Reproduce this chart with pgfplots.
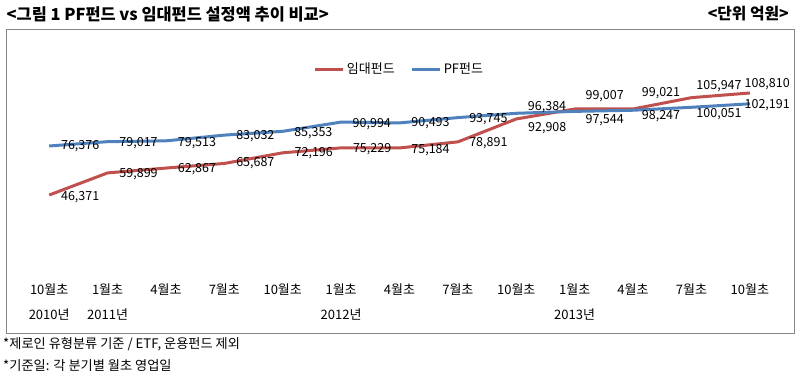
\documentclass[border=0pt]{standalone}
\usepackage{fontspec}
\setmainfont{Noto Sans CJK KR}
\usepackage{pgfplots}
\usepackage{pgfplotstable}
\pgfplotsset{compat=1.18}
\definecolor{rd}{RGB}{192,80,77}
\definecolor{bl}{RGB}{79,129,189}
\definecolor{bx}{RGB}{134,134,134}

% x = quarter index, y = value (100 million won), dx/dy = label offset (pt)
\pgfplotstableread{
x y dx dy
0 46371 31 -1.7
1 59899 31 -1.1
2 62867 31 -1.3
3 65687 31 0
4 72196 31 -0.5
5 75229 31 -1.5
6 75184 31 -2
7 78891 30.5 -0.8
8 92908 31 -9.3
9 99007 30 13.3
10 99021 28 15.7
11 105947 27.6 12
12 108810 17.4 9
}\redtab

\pgfplotstableread{
x y dx dy
0 76376 31 -0.6
1 79017 31 -1
2 79513 31 -1.9
3 83032 31 -0.9
4 85353 30.6 -1.4
5 90994 30.7 -1.9
6 90493 31 -0.4
7 93745 30.5 -1.4
8 96384 30.8 6.6
9 97544 30 -8.6
10 98247 28 -5.5
11 100051 27.6 -6.7
12 102191 17.4 -1.2
}\bluetab

\begin{document}
\begin{tikzpicture}[x=1pt,y=1pt]
\useasboundingbox (0,0) rectangle (807,376);
\draw[bx, line width=1.2pt] (6.7,346.7) rectangle (794.3,42.7);
\node[anchor=west, inner sep=0pt, font=\fontsize{16.4}{19}\selectfont\bfseries] at (6.5,362) {<그림 1 PF펀드 vs 임대펀드 설정액 추이 비교>};
\node[anchor=east, inner sep=0pt, font=\fontsize{15.8}{19}\selectfont\bfseries] at (789,362) {<단위 억원>};
\node[anchor=west, inner sep=0pt, font=\fontsize{13.2}{15}\selectfont] at (3,32) {*제로인 유형분류 기준 / ETF, 운용펀드 제외};
\node[anchor=west, inner sep=0pt, font=\fontsize{13.2}{15}\selectfont] at (3,10.5) {*기준일: 각 분기별 월초 영업일};
\begin{axis}[
  at={(20pt,105.2pt)}, anchor=south west,
  scale only axis, width=759pt, height=228.8pt,
  xmin=-0.5, xmax=12.5, ymin=0, ymax=140000,
  axis line style={draw=none},
  ytick=\empty,
  xtick={0,...,12},
  xticklabels={{10월초\\2010년},{1월초\\2011년},4월초,7월초,10월초,{1월초\\2012년},4월초,7월초,10월초,{1월초\\2013년},4월초,7월초,10월초},
  xticklabel style={align=center, font=\fontsize{13}{25}\selectfont, anchor=north, yshift=-9pt},
  major tick length=0pt,
  clip=false,
  legend style={draw=none, at={(0.5,0.882)}, anchor=center, legend columns=2,
    font=\fontsize{13}{15}\selectfont,
    /tikz/every even column/.append style={column sep=14pt}},
  legend image code/.code={\draw[#1, line width=3pt] (0pt,0pt) -- (28pt,0pt);},
  every node near coord/.append style={anchor=center, text=black, font=\fontsize{12.5}{14}\selectfont},
  /pgf/number format/assume math mode=true,
]
\addplot[rd, line width=3pt, no marks,
  point meta=y,
  nodes near coords={\pgfmathprintnumber[1000 sep={,}, fixed, precision=0]{\pgfplotspointmeta}},
  visualization depends on={\thisrow{dx}\as\dx},
  visualization depends on={\thisrow{dy}\as\dy},
  nodes near coords style={xshift=\dx pt, yshift=\dy pt}
] table[x=x,y=y]{\redtab};
\addlegendentry{임대펀드}
\addplot[bl, line width=3pt, no marks,
  point meta=y,
  nodes near coords={\pgfmathprintnumber[1000 sep={,}, fixed, precision=0]{\pgfplotspointmeta}},
  visualization depends on={\thisrow{dx}\as\dx},
  visualization depends on={\thisrow{dy}\as\dy},
  nodes near coords style={xshift=\dx pt, yshift=\dy pt}
] table[x=x,y=y]{\bluetab};
\addlegendentry{PF펀드}
\end{axis}
\end{tikzpicture}
\end{document}
